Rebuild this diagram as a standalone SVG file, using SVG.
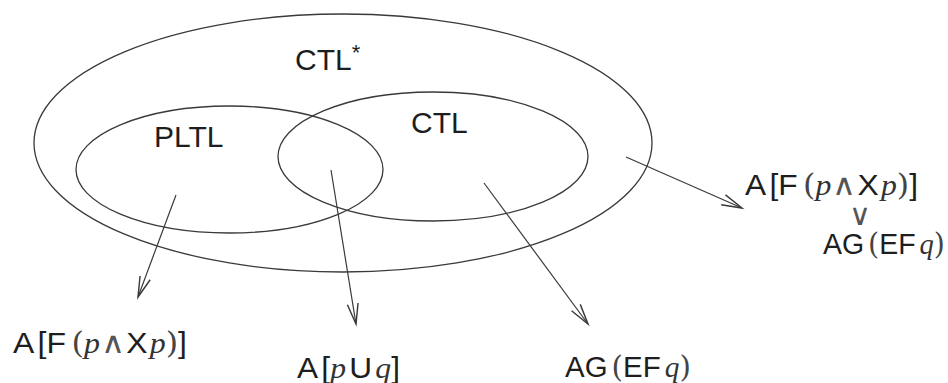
<svg xmlns="http://www.w3.org/2000/svg" width="948" height="383" viewBox="0 0 948 383">
<style>
.sh{fill:none;stroke:#3a3a3a;stroke-width:1.3}
.lbl{font-family:"Liberation Sans",Arial,sans-serif;font-size:30px;fill:#1e1e1e}
.f{font-family:"Liberation Sans",Arial,sans-serif;font-size:29px;fill:#1e1e1e}
.i{font-family:"Liberation Serif","Times New Roman",serif;font-style:italic;fill:#333}
.m{font-family:"DejaVu Serif","Liberation Serif",serif;font-weight:normal;fill:#444}
.op{font-family:"DejaVu Sans","Liberation Sans",sans-serif;font-weight:200;font-size:30px;fill:#555}
.sm{font-size:22px}
.cn{fill:none;stroke:#3a3a3a;stroke-width:1.2}
</style>
<defs>
<marker id="ah" markerUnits="userSpaceOnUse" markerWidth="30" markerHeight="30" viewBox="-20 -10 25 20" refX="0" refY="0" orient="auto">
<path d="M -17 -4.5 L 0 0 L -17 4.5" fill="none" stroke="#3a3a3a" stroke-width="1.2"/>
</marker>
</defs>
<rect width="948" height="383" fill="#ffffff"/>
<g id="ctlstar">
<ellipse class="sh" cx="343" cy="143" rx="309" ry="129"/>
<text class="lbl" x="295" y="70">CTL<tspan class="sm" dy="-10">*</tspan></text>
</g>
<g id="pltl">
<ellipse class="sh" cx="229.5" cy="169.5" rx="153.5" ry="63.5"/>
<text class="lbl" x="154" y="147">PLTL</text>
</g>
<g id="ctl">
<ellipse class="sh" cx="433" cy="156.5" rx="155" ry="64.5"/>
<text class="lbl" x="411" y="133">CTL</text>
</g>
<g id="connectors">
<line class="cn" x1="176" y1="195" x2="138" y2="297" marker-end="url(#ah)"/>
<line class="cn" x1="331" y1="170" x2="356" y2="324" marker-end="url(#ah)"/>
<line class="cn" x1="484" y1="183" x2="588" y2="324" marker-end="url(#ah)"/>
<line class="cn" x1="626" y1="157" x2="742" y2="208" marker-end="url(#ah)"/>
</g>
<g id="f-pltl">
<text class="f" x="13" y="353" textLength="174" lengthAdjust="spacingAndGlyphs">A<tspan dx="3">[</tspan>F<tspan class="m" dx="5">(</tspan><tspan class="i">p</tspan><tspan class="op" dx="1">∧</tspan><tspan dx="1">X</tspan><tspan class="i" dx="2">p</tspan><tspan class="m">)</tspan>]</text>
</g>
<g id="f-both">
<text class="f" x="297" y="378" textLength="103" lengthAdjust="spacingAndGlyphs">A<tspan dx="3">[</tspan><tspan class="i">p</tspan><tspan dx="3">U</tspan><tspan class="i" dx="3">q</tspan>]</text>
</g>
<g id="f-ctl">
<text class="f" x="565" y="377" textLength="126" lengthAdjust="spacingAndGlyphs">AG<tspan class="m" dx="4">(</tspan>EF<tspan class="i" dx="4">q</tspan><tspan class="m">)</tspan></text>
</g>
<g id="f-ctlstar">
<text class="f" x="745" y="195" textLength="173" lengthAdjust="spacingAndGlyphs">A<tspan dx="3">[</tspan>F<tspan class="m" dx="5">(</tspan><tspan class="i">p</tspan><tspan class="op" dx="1">∧</tspan><tspan dx="1">X</tspan><tspan class="i" dx="2">p</tspan><tspan class="m">)</tspan>]</text>
<text class="op" x="860" y="225" text-anchor="middle">∨</text>
<text class="f" x="823" y="254" textLength="122" lengthAdjust="spacingAndGlyphs">AG<tspan class="m" dx="4">(</tspan>EF<tspan class="i" dx="4">q</tspan><tspan class="m">)</tspan></text>
</g>
</svg>
